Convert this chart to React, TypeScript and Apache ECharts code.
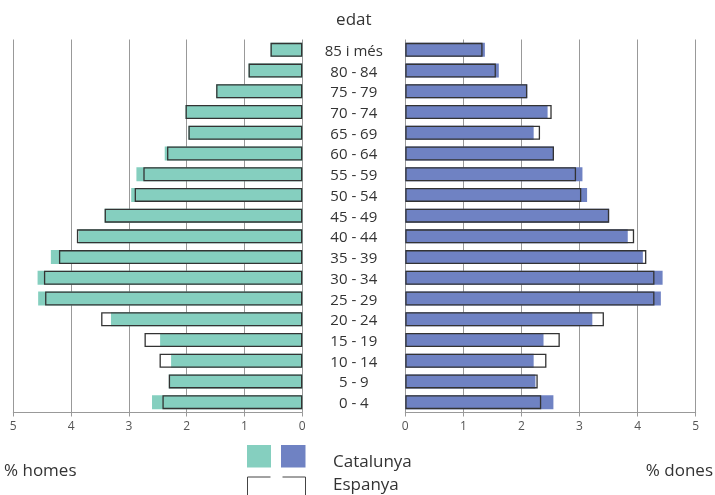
import React, { useEffect, useRef } from "react";
import * as echarts from "echarts";

const categories = ["0 - 4", "5 - 9", "10 - 14", "15 - 19", "20 - 24", "25 - 29", "30 - 34", "35 - 39", "40 - 44", "45 - 49", "50 - 54", "55 - 59", "60 - 64", "65 - 69", "70 - 74", "75 - 79", "80 - 84", "85 i més"];

const homesCatalunya = [2.60, 2.31, 2.27, 2.46, 3.31, 4.57, 4.58, 4.35, 3.87, 3.42, 2.96, 2.87, 2.38, 1.97, 2.02, 1.49, 0.93, 0.55];
const homesEspanya = [2.42, 2.31, 2.47, 2.73, 3.48, 4.45, 4.47, 4.21, 3.90, 3.42, 2.90, 2.75, 2.34, 1.97, 2.02, 1.49, 0.93, 0.55];
const donesCatalunya = [2.55, 2.24, 2.21, 2.38, 3.22, 4.40, 4.43, 4.09, 3.83, 3.51, 3.13, 3.05, 2.56, 2.21, 2.45, 2.10, 1.61, 1.37];
const donesEspanya = [2.34, 2.28, 2.43, 2.66, 3.42, 4.29, 4.29, 4.15, 3.94, 3.51, 3.03, 2.94, 2.56, 2.32, 2.52, 2.10, 1.56, 1.33];

const TEAL = "#85cfbf";
const BLUE = "#6f82c3";
const FONT = "'Open Sans', 'Noto Sans', sans-serif";

export default function App() {
  const ref = useRef<HTMLDivElement>(null);
  useEffect(() => {
    if (!ref.current) return;
    const chart = echarts.init(ref.current, null, { renderer: "svg" });
    const valueAxis = (gridIndex: number, inverse: boolean) => ({
      type: "value",
      gridIndex,
      min: 0,
      max: 5,
      interval: 1,
      inverse,
      axisLine: { show: true, lineStyle: { color: "#999", width: 1 } },
      axisTick: { show: true, length: 4, lineStyle: { color: "#999" } },
      splitLine: { show: true, lineStyle: { color: "#999", width: 1 } },
      axisLabel: { color: "#555", fontSize: 12, fontFamily: FONT, margin: 7 },
    });
    const barCommon = { type: "bar", barWidth: 14, barGap: "-100%" };
    chart.setOption({
      animation: false,
      grid: [
        { left: 13.3, top: 39.5, width: 289, height: 373 },
        { left: 405.3, top: 39.5, width: 290.4, height: 373 },
      ],
      xAxis: [valueAxis(0, true), valueAxis(1, false)],
      yAxis: [
        {
          type: "category",
          gridIndex: 0,
          data: categories,
          position: "right",
          axisLine: { show: false },
          axisTick: { show: false },
          splitLine: { show: false },
          axisLabel: {
            show: true,
            interval: 0,
            align: "center",
            margin: 51.5,
            color: "#333",
            fontSize: 15,
            fontFamily: FONT,
          },
        },
        {
          type: "category",
          gridIndex: 1,
          data: categories,
          axisLine: { show: false },
          axisTick: { show: false },
          axisLabel: { show: false },
        },
      ],
      series: [
        { ...barCommon, name: "Catalunya homes", xAxisIndex: 0, yAxisIndex: 0, data: homesCatalunya, itemStyle: { color: TEAL } },
        { ...barCommon, name: "Espanya homes", xAxisIndex: 0, yAxisIndex: 0, data: homesEspanya, itemStyle: { color: "rgba(0,0,0,0)", borderColor: "#333", borderWidth: 1.3 } },
        { ...barCommon, name: "Catalunya dones", xAxisIndex: 1, yAxisIndex: 1, data: donesCatalunya, itemStyle: { color: BLUE } },
        { ...barCommon, name: "Espanya dones", xAxisIndex: 1, yAxisIndex: 1, data: donesEspanya, itemStyle: { color: "rgba(0,0,0,0)", borderColor: "#333", borderWidth: 1.3 } },
      ],
      graphic: [
        { type: "text", x: 353.8, y: 18, style: { text: "edat", fill: "#333", fontSize: 17, fontFamily: FONT, align: "center", verticalAlign: "middle" } },
        { type: "text", x: 4, y: 469, style: { text: "% homes", fill: "#333", fontSize: 17, fontFamily: FONT, verticalAlign: "middle", align: "left" } },
        { type: "text", x: 713, y: 469, style: { text: "% dones", fill: "#333", fontSize: 17, fontFamily: FONT, verticalAlign: "middle", align: "right" } },
        { type: "rect", shape: { x: 247, y: 445, width: 24, height: 22.5 }, style: { fill: TEAL } },
        { type: "rect", shape: { x: 281, y: 445, width: 24.5, height: 22.5 }, style: { fill: BLUE } },
        { type: "polyline", shape: { points: [[247.5, 496], [247.5, 477], [270.5, 477]] }, style: { stroke: "#444", lineWidth: 1, fill: "none" } },
        { type: "polyline", shape: { points: [[282.5, 477], [305.5, 477], [305.5, 496]] }, style: { stroke: "#444", lineWidth: 1, fill: "none" } },
        { type: "text", x: 333, y: 460, style: { text: "Catalunya", fill: "#333", fontSize: 17, fontFamily: FONT, verticalAlign: "middle" } },
        { type: "text", x: 333, y: 483, style: { text: "Espanya", fill: "#333", fontSize: 17, fontFamily: FONT, verticalAlign: "middle" } },
      ],
    });
    return () => chart.dispose();
  }, []);
  return <div ref={ref} style={{ position: "fixed", left: 0, top: 0, width: 715, height: 495 }} />;
}
